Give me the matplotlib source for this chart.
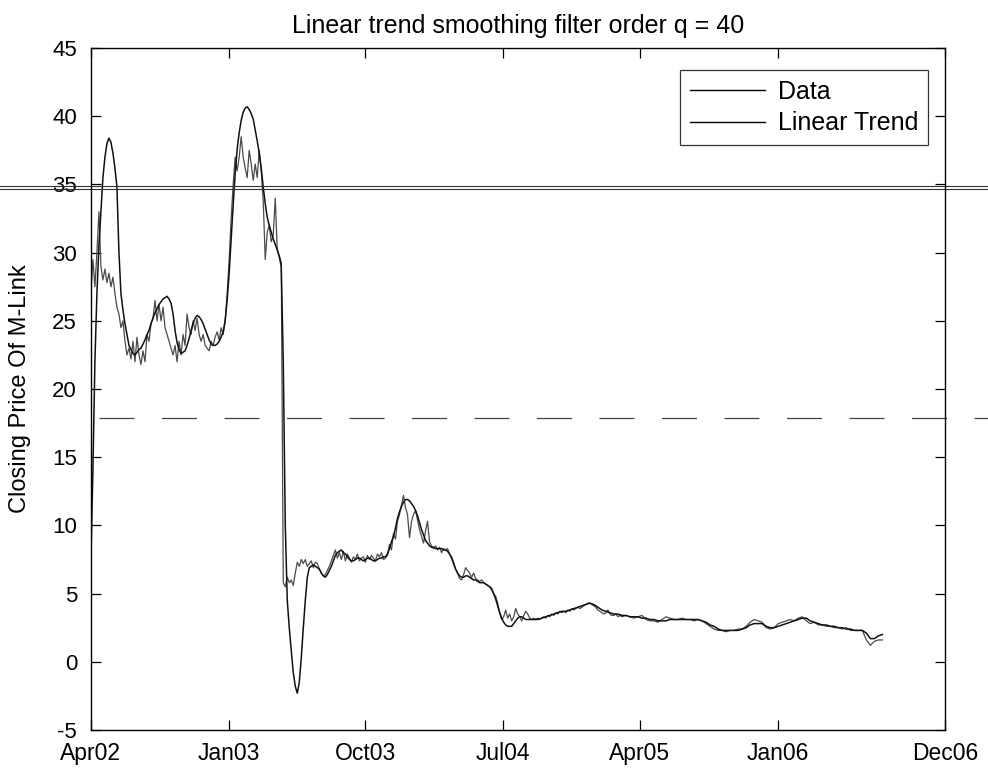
import numpy as np
import matplotlib
matplotlib.use("Agg")
import matplotlib.pyplot as plt

plt.rcParams['font.family'] = ['Liberation Sans', 'DejaVu Sans']
plt.rcParams['axes.unicode_minus'] = False

# closing prices, days counted from 1 Apr 2002
# first part sampled every 4 days, second part every 8 days
data_part1 = [
    27.0, 29.5, 27.5, 30.0, 33.0, 29.0, 28.0, 28.8, 27.8, 28.5,
    27.5, 28.2, 27.0, 26.0, 25.5, 24.5, 25.0, 23.5, 22.5, 23.0,
    22.2, 23.5, 22.0, 23.8, 22.5, 21.8, 22.8, 22.0, 24.0, 23.5,
    24.8, 25.2, 26.5, 25.0, 26.2, 25.0, 26.0, 24.5, 24.0, 23.5,
    23.0, 22.5, 23.2, 22.0, 23.5, 22.5, 24.0, 23.2, 25.5, 24.5,
    24.0, 25.0, 24.3, 25.2, 24.0, 23.5, 24.0, 23.2, 23.0, 22.8,
    23.5, 23.2, 23.8, 24.2, 23.6, 24.5, 24.0, 25.0, 27.0, 29.5,
    32.5, 35.0, 37.0, 36.0, 37.0, 38.5, 37.0, 36.2, 35.5, 37.5,
    36.5, 35.3, 36.5, 35.5, 37.5, 36.0, 33.8, 29.5, 31.5, 32.0,
    30.8, 31.3, 34.0, 30.2, 29.8, 29.3,
    5.8, 5.5, 6.2, 5.8, 6.0, 5.6, 6.5, 7.3, 7.0, 7.5,
    7.2, 7.5, 7.0, 7.2, 7.4, 6.9, 7.3, 7.2, 6.8, 6.5,
    6.3, 6.4, 6.7, 7.0, 7.4, 7.8, 8.2, 7.6, 8.0, 7.5,
    8.1, 7.4, 7.9, 7.6, 7.3, 7.7, 7.5, 7.9, 7.4, 7.6,
    7.7, 7.3, 7.8, 7.5, 7.8, 7.6, 7.4, 7.9, 7.7, 8.0,
    7.5, 7.6, 7.8, 8.6, 8.2, 9.4, 9.0, 10.3, 10.8, 11.5,
    12.2, 11.3, 10.8, 9.1, 10.3, 10.8, 11.1, 10.4, 9.7, 9.2,
    8.7, 9.6, 10.3, 8.8, 8.5, 8.3, 8.5, 8.2, 8.4, 8.0,
    8.3, 8.2, 8.3, 7.9, 7.7, 7.3, 6.8, 6.5, 6.1, 6.0,
    6.4, 6.9, 6.7, 6.5, 6.2, 6.5, 6.1, 6.0, 5.9, 6.0,
    5.8, 5.7, 5.6, 5.5, 5.4, 5.0, 4.8, 4.3, 3.6, 3.1,
    3.3, 3.8, 3.2, 3.5, 3.0, 3.3, 3.9, 3.5, 3.3, 3.0,
    3.4, 3.7, 3.5, 3.2, 3.1, 3.2, 3.1, 3.2, 3.1, 3.2,
    3.3, 3.2, 3.4, 3.3, 3.5, 3.4, 3.6, 3.5, 3.7, 3.6,
    3.7, 3.6, 3.8, 3.7, 3.9, 3.8, 3.9, 4.0, 3.9, 4.0,
    4.1, 4.2, 4.3, 4.3, 4.2, 4.1, 4.0, 3.8, 3.7, 3.6,
    3.5, 3.6, 3.8, 3.5, 3.4, 3.4, 3.5, 3.3, 3.4, 3.3,
]
data_part2 = [
    3.4, 3.3, 3.2, 3.3, 3.4, 3.1, 3.0, 3.0, 2.9, 3.1,
    3.3, 3.2, 3.1, 3.1, 3.2, 3.1, 3.1, 3.0, 3.1, 3.0,
    2.8, 2.6, 2.4, 2.3, 2.3, 2.2, 2.3, 2.3, 2.4, 2.4,
    2.6, 2.9, 3.1, 3.0, 2.9, 2.5, 2.4, 2.5, 2.8, 2.9,
    3.0, 3.1, 3.0, 3.2, 3.3, 3.0, 2.8, 2.9, 2.7, 2.7,
    2.6, 2.6, 2.5, 2.5, 2.4, 2.5, 2.3, 2.3, 2.3, 2.3,
    1.6, 1.2, 1.5, 1.6, 1.6,
]

trend_part1 = [
    7.5, 14.0, 22.0, 27.0, 30.5, 33.0, 35.5, 37.0, 38.0, 38.4,
    38.1, 37.3, 36.2, 34.8, 30.0, 27.0, 25.8, 24.8, 24.0, 23.2,
    22.9, 22.6, 22.5, 22.7, 22.9, 23.0, 23.3, 23.6, 24.0, 24.3,
    24.8, 25.2, 25.6, 25.9, 26.2, 26.4, 26.6, 26.7, 26.8, 26.6,
    26.3, 25.5, 24.3, 23.4, 22.9, 22.6, 22.7, 22.8, 23.2, 23.7,
    24.3, 24.8, 25.2, 25.4, 25.3, 25.1, 24.8, 24.4, 24.0, 23.6,
    23.3, 23.2, 23.2, 23.3, 23.5, 23.8, 24.2, 25.0, 26.5, 28.5,
    31.0, 33.5, 35.8, 37.6, 38.8, 39.7, 40.3, 40.6, 40.7, 40.5,
    40.2, 39.8, 39.0, 38.2, 37.3, 36.2, 34.8, 33.6, 32.6, 32.0,
    31.5, 31.0, 30.6, 30.2, 29.7, 29.0,
    22.0, 10.0, 4.5, 2.5, 0.8, -0.8, -1.8, -2.3, -1.5, 0.3,
    2.5, 4.5, 6.2, 6.9, 7.0, 7.1, 7.0, 6.9, 6.8, 6.5,
    6.3, 6.2, 6.4, 6.7, 7.0, 7.4, 7.8, 8.0, 8.1, 8.2,
    8.0, 7.9, 7.7, 7.5, 7.4, 7.4, 7.5, 7.6, 7.6, 7.5,
    7.4, 7.5, 7.6, 7.6, 7.5, 7.4, 7.4, 7.5, 7.6, 7.6,
    7.7, 7.7, 7.9, 8.3, 8.8, 9.2, 9.8, 10.5, 11.0, 11.4,
    11.7, 11.9, 11.9, 11.8, 11.6, 11.4, 11.1, 10.7, 10.2, 9.7,
    9.3, 8.9, 8.7, 8.5, 8.4, 8.4, 8.3, 8.3, 8.3, 8.3,
    8.2, 8.2, 8.1, 7.9, 7.6, 7.2, 6.8, 6.5, 6.3, 6.2,
    6.2, 6.3, 6.3, 6.2, 6.1, 6.0, 6.0, 5.9, 5.8, 5.8,
    5.8, 5.7, 5.6, 5.5, 5.3, 5.0, 4.6, 4.1, 3.6, 3.2,
    2.9, 2.7, 2.6, 2.6, 2.6, 2.8, 3.0, 3.2, 3.3, 3.3,
    3.2, 3.1, 3.1, 3.1, 3.1, 3.1, 3.1, 3.1, 3.15, 3.2,
    3.25, 3.3, 3.35, 3.4, 3.45, 3.5, 3.55, 3.6, 3.65, 3.7,
    3.7, 3.7, 3.75, 3.8, 3.85, 3.9, 3.95, 4.0, 4.05, 4.1,
    4.15, 4.2, 4.25, 4.3, 4.25, 4.2, 4.1, 4.0, 3.9, 3.8,
    3.75, 3.7, 3.65, 3.6, 3.55, 3.5, 3.5, 3.5, 3.45, 3.4,
]
trend_part2 = [
    3.4, 3.3, 3.3, 3.3, 3.2, 3.2, 3.1, 3.1, 3.0, 3.0,
    3.0, 3.1, 3.1, 3.1, 3.1, 3.1, 3.1, 3.1, 3.1, 3.0,
    2.9, 2.7, 2.6, 2.4, 2.3, 2.3, 2.3, 2.3, 2.3, 2.4,
    2.5, 2.7, 2.8, 2.8, 2.8, 2.6, 2.5, 2.5, 2.6, 2.7,
    2.8, 2.9, 3.0, 3.1, 3.2, 3.2, 3.0, 2.9, 2.8, 2.7,
    2.7, 2.6, 2.6, 2.5, 2.5, 2.4, 2.4, 2.3, 2.3, 2.3,
    2.1, 1.7, 1.7, 1.9, 2.0,
]

start_date = np.datetime64('2002-04-01')
end_date = np.datetime64('2006-12-01')
tick_dates = ['2002-04-01', '2003-01-01', '2003-10-01', '2004-07-01',
              '2005-04-01', '2006-01-01', '2006-12-01']
tick_labels = ['Apr02', 'Jan03', 'Oct03', 'Jul04', 'Apr05', 'Jan06', 'Dec06']
y_ticks = list(range(-5, 50, 5))


def series_dates(part1, part2):
    d1 = 4 * np.arange(len(part1))
    d2 = 1068 + 8 * np.arange(len(part2))
    days = np.concatenate([d1, d2]).astype('timedelta64[D]')
    return start_date + days, np.array(part1 + part2)


data_x, data_y = series_dates(data_part1, data_part2)
trend_x, trend_y = series_dates(trend_part1, trend_part2)

fig = plt.figure(figsize=(9.88, 7.7), dpi=100)
ax = fig.add_axes([0.092, 0.052, 0.8645, 0.8855])

ax.plot(data_x, data_y, color='#4a4a4a', lw=0.9, label='Data')
ax.plot(trend_x, trend_y, color='#111111', lw=1.1, label='Linear Trend')

# scan artefacts: a double rule near 35 and a broken dashed rule near 18
for yv in (34.68, 34.88):
    ax.axhline(yv, xmin=-0.11, xmax=1.05, color='#333333', lw=0.8, clip_on=False)
ax.axhline(17.9, xmin=0.01, xmax=1.05, color='#444444', lw=0.9,
           dashes=(28, 22), clip_on=False)

ax.set_xlim(start_date, end_date)
ax.set_ylim(-5, 45)
ax.set_xticks([np.datetime64(d) for d in tick_dates])
ax.set_xticklabels(tick_labels)
ax.set_yticks(y_ticks)
ax.tick_params(direction='in', length=7, width=0.9, top=True, right=True)
ax.tick_params(axis='x', pad=9, labelsize=16.5)
ax.tick_params(axis='y', pad=10, labelsize=16)
for s in ax.spines.values():
    s.set_linewidth(1.0)

ax.set_ylabel('Closing Price Of M-Link', fontsize=17)
ax.yaxis.set_label_coords(-0.07, 0.5)
ax.set_title('Linear trend smoothing filter order q = 40', fontsize=18, pad=11)

leg = ax.legend(loc='upper right', bbox_to_anchor=(0.98, 0.968), fontsize=18,
                frameon=True, fancybox=False, edgecolor='black',
                handlelength=3.0, handletextpad=0.5, borderpad=0.4,
                labelspacing=0.3, borderaxespad=0)
leg.get_frame().set_linewidth(0.9)
for h in leg.get_lines():
    h.set_color('black')
    h.set_linewidth(1.0)

fig.savefig('out.png', dpi=100)
